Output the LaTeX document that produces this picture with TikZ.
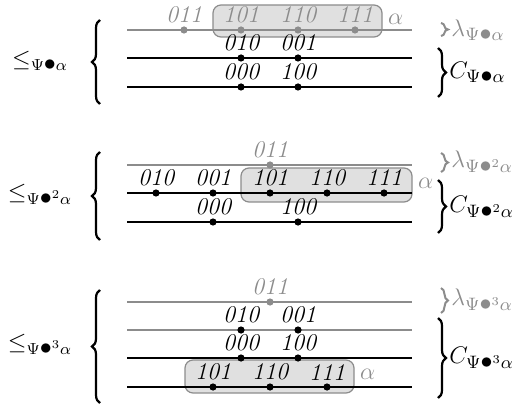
\documentclass[tikz,border=0pt]{standalone}
\usepackage{amsmath,amssymb}
\usetikzlibrary{positioning, decorations.pathreplacing}
\definecolor{fadedgray}{gray}{0.55}
\definecolor{boxgray}{gray}{0.88}
\newcommand{\bul}{\mathbin{\textstyle\bullet}}

\begin{document}
\begin{tikzpicture}[
  x=0.5pt, y=-0.5pt,
  seq/.style={line width=1.2pt},
  hiseq/.style={line width=1.2pt, draw=fadedgray},
  bdot/.style={circle, fill=black, inner sep=0pt, minimum size=3.6pt},
  gdot/.style={bdot, fill=fadedgray},
  code/.style={font=\fontsize{12}{14}\selectfont\itshape, inner sep=0.5pt},
  bcode/.style={label={[code, label distance=0.8pt]above:#1}},
  gcode/.style={label={[code, text=fadedgray, label distance=0.8pt]above:#1}},
  selbox/.style={draw=fadedgray, fill=boxgray, rounded corners=4pt, line width=0.6pt},
  alab/.style={font=\fontsize{12}{14}\selectfont, text=fadedgray, inner sep=0pt},
  order/.style={font=\fontsize{12}{14}\selectfont},
  sidelab/.style={anchor=west, inner sep=0pt, font=\fontsize{12.5}{14}\selectfont},
  grp/.style={decorate, decoration={brace, amplitude=4pt}, line width=1.1pt},
  gbrace/.style={decorate, decoration={brace, amplitude=3.5pt}, draw=fadedgray, line width=1pt}
]
  \useasboundingbox (0,0) rectangle (517,405);

  % first order
  \node[selbox, minimum width=84.5pt, minimum height=16pt] (sel1) at (297.5,21) {};
  \node[alab, right=2.5pt of sel1.east, yshift=1pt] (alpha1) {$\alpha$};
  \coordinate (p1r1s) at (127,30); \coordinate (p1r1e) at (412,30);
  \coordinate (p1r2s) at (127,58); \coordinate (p1r2e) at (412,58);
  \coordinate (p1r3s) at (127,87); \coordinate (p1r3e) at (412,87);
  \draw[hiseq] (p1r1s) -- (p1r1e);
  \draw[seq] (p1r2s) -- (p1r2e);
  \draw[seq] (p1r3s) -- (p1r3e);
  \node[gdot, gcode=011] (p1v011) at (184,30) {};
  \node[gdot, gcode=101] (p1v101) at (241,30) {};
  \node[gdot, gcode=110] (p1v110) at (298,30) {};
  \node[gdot, gcode=111] (p1v111) at (355,30) {};
  \node[bdot, bcode=010] (p1v010) at (241,58) {};
  \node[bdot, bcode=001] (p1v001) at (298,58) {};
  \node[bdot, bcode=000] (p1v000) at (241,87) {};
  \node[bdot, bcode=100] (p1v100) at (298,87) {};
  \node[order] (ord1) at (40,61) {$\leq_{\Psi\bul\alpha}$};
  \coordinate (open1b) at (100,104); \coordinate (open1t) at (100,20);
  \draw[grp] (open1b) -- (open1t);
  \coordinate (lam1t) at (441,23); \coordinate (lam1b) at (441,36);
  \draw[gbrace] (lam1t) -- (lam1b);
  \node[sidelab, text=fadedgray] (lam1) at (451,30) {$\lambda_{\Psi\bul\alpha}$};
  \coordinate (cls1t) at (438,48); \coordinate (cls1b) at (438,97);
  \draw[grp] (cls1t) -- (cls1b);
  \node[sidelab] (c1) at (449,72) {$C_{\Psi\bul\alpha}$};

  % second order
  \node[selbox, minimum width=85.5pt, minimum height=17pt] (sel2) at (326.5,185) {};
  \node[alab, right=2.5pt of sel2.east, yshift=1pt] (alpha2) {$\alpha$};
  \coordinate (p2r1s) at (127,165); \coordinate (p2r1e) at (412,165);
  \coordinate (p2r2s) at (127,193); \coordinate (p2r2e) at (412,193);
  \coordinate (p2r3s) at (127,222); \coordinate (p2r3e) at (412,222);
  \draw[hiseq] (p2r1s) -- (p2r1e);
  \draw[seq] (p2r2s) -- (p2r2e);
  \draw[seq] (p2r3s) -- (p2r3e);
  \node[gdot, gcode=011] (p2v011) at (270,165) {};
  \node[bdot, bcode=010] (p2v010) at (156,193) {};
  \node[bdot, bcode=001] (p2v001) at (213,193) {};
  \node[bdot, bcode=101] (p2v101) at (270,193) {};
  \node[bdot, bcode=110] (p2v110) at (327,193) {};
  \node[bdot, bcode=111] (p2v111) at (384,193) {};
  \node[bdot, bcode=000] (p2v000) at (213,222) {};
  \node[bdot, bcode=100] (p2v100) at (298,222) {};
  \node[order] (ord2) at (40,194) {$\leq_{\Psi\bul^2\alpha}$};
  \coordinate (open2b) at (100,240); \coordinate (open2t) at (100,152);
  \draw[grp] (open2b) -- (open2t);
  \coordinate (lam2t) at (441,153); \coordinate (lam2b) at (441,172);
  \draw[gbrace] (lam2t) -- (lam2b);
  \node[sidelab, text=fadedgray] (lam2) at (451,162) {$\lambda_{\Psi\bul^2\alpha}$};
  \coordinate (cls2t) at (438,180); \coordinate (cls2b) at (438,233);
  \draw[grp] (cls2t) -- (cls2b);
  \node[sidelab] (c2) at (449,207) {$C_{\Psi\bul^2\alpha}$};

  % third order
  \node[selbox, minimum width=84.5pt, minimum height=16.5pt] (sel3) at (269.5,376.5) {};
  \node[alab, right=2.5pt of sel3.east, yshift=1pt] (alpha3) {$\alpha$};
  \coordinate (p3r1s) at (127,302); \coordinate (p3r1e) at (412,302);
  \coordinate (p3r2s) at (127,330); \coordinate (p3r2e) at (412,330);
  \coordinate (p3r3s) at (127,358); \coordinate (p3r3e) at (412,358);
  \coordinate (p3r4s) at (127,387); \coordinate (p3r4e) at (412,387);
  \draw[hiseq] (p3r1s) -- (p3r1e);
  \draw[hiseq] (p3r2s) -- (p3r2e);
  \draw[seq] (p3r3s) -- (p3r3e);
  \draw[seq] (p3r4s) -- (p3r4e);
  \node[gdot, gcode=011] (p3v011) at (270,302) {};
  \node[bdot, bcode=010] (p3v010) at (241,330) {};
  \node[bdot, bcode=001] (p3v001) at (298,330) {};
  \node[bdot, bcode=000] (p3v000) at (241,358) {};
  \node[bdot, bcode=100] (p3v100) at (298,358) {};
  \node[bdot, bcode=101] (p3v101) at (213,387) {};
  \node[bdot, bcode=110] (p3v110) at (270,387) {};
  \node[bdot, bcode=111] (p3v111) at (327,387) {};
  \node[order] (ord3) at (40,344) {$\leq_{\Psi\bul^3\alpha}$};
  \coordinate (open3b) at (100,403); \coordinate (open3t) at (100,290);
  \draw[grp] (open3b) -- (open3t);
  \coordinate (lam3t) at (441,288); \coordinate (lam3b) at (441,313);
  \draw[gbrace] (lam3t) -- (lam3b);
  \node[sidelab, text=fadedgray] (lam3) at (451,300) {$\lambda_{\Psi\bul^3\alpha}$};
  \coordinate (cls3t) at (438,318); \coordinate (cls3b) at (438,398);
  \draw[grp] (cls3t) -- (cls3b);
  \node[sidelab] (c3) at (449,358) {$C_{\Psi\bul^3\alpha}$};
\end{tikzpicture}
\end{document}
